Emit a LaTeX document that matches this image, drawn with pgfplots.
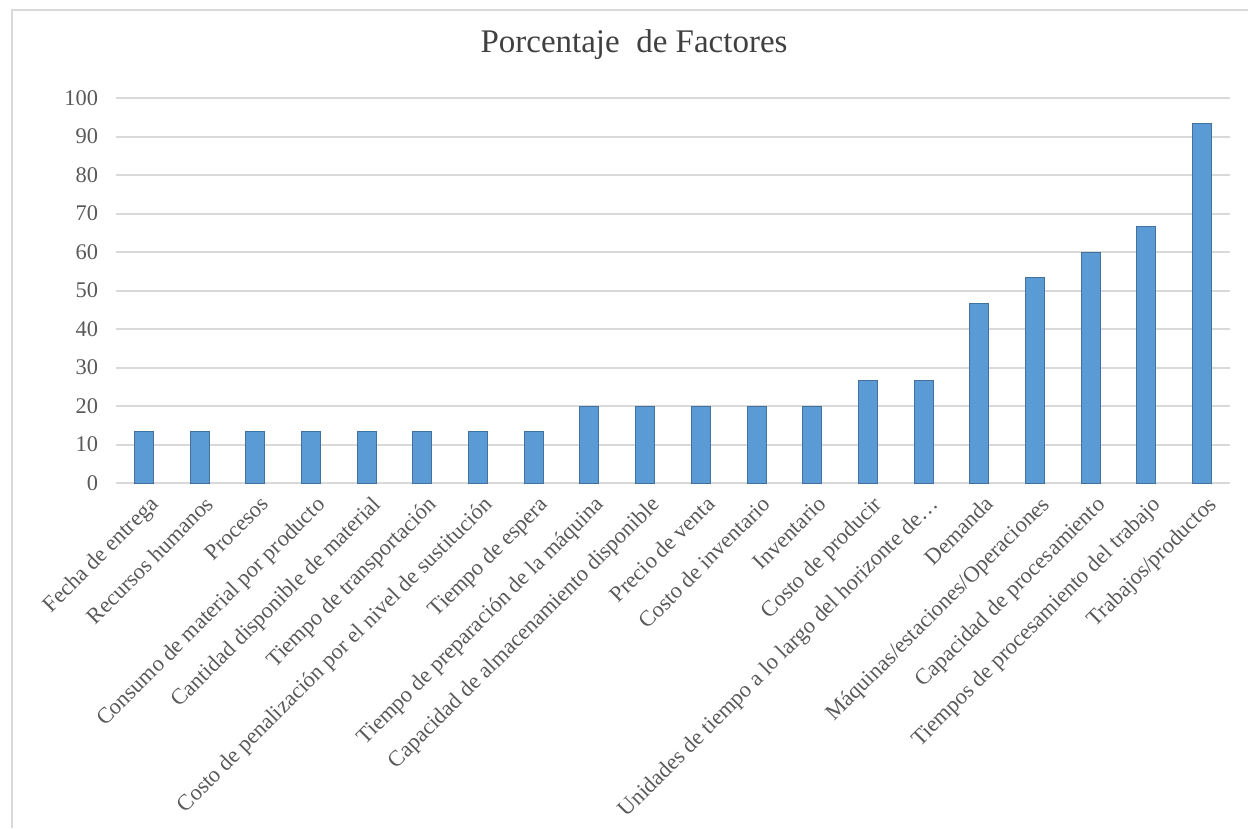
\documentclass[border=0pt]{standalone}
\usepackage{pgfplots}
\pgfplotsset{compat=1.18}
\usepackage{fontspec}
\setmainfont{Liberation Serif}
\definecolor{barblue}{HTML}{5B9BD5}
\definecolor{baredge}{HTML}{41719C}
\definecolor{gridgray}{HTML}{D9D9D9}
\definecolor{txtgray}{HTML}{595959}
\definecolor{titlegray}{HTML}{404040}
\begin{document}
\begin{tikzpicture}[x=1bp,y=1bp]
\useasboundingbox (-58,-172.5) rectangle (566,241.5);
\draw[gridgray, line width=1bp] (-52,-172.5) -- (-52,236.75) -- (566,236.75);
\node[anchor=base, text=titlegray, font=\fontsize{16.5bp}{19bp}\selectfont] at (259,215.5) {Porcentaje\ \ de Factores};
\begin{axis}[
  at={(0,0)}, anchor=south west,
  scale only axis,
  width=557bp, height=192.5bp,
  xmin=-0.5, xmax=19.5,
  ymin=0, ymax=100,
  ytick={0,10,...,100},
  xtick={0,1,...,19},
  xticklabels={Fecha de entrega, Recursos humanos, Procesos, Consumo de material por producto, Cantidad disponible de material, Tiempo de transportación, Costo de penalización por el nivel de sustitución, Tiempo de espera, Tiempo de preparación de la máquina, Capacidad de almacenamiento disponible, Precio de venta, Costo de inventario, Inventario, Costo de producir, Unidades de tiempo a lo largo del horizonte de…, Demanda, Máquinas/estaciones/Operaciones, Capacidad de procesamiento, Tiempos de procesamiento del trabajo, Trabajos/productos},
  major tick length=0pt,
  axis line style={draw=none},
  ymajorgrids,
  grid style={gridgray, line width=1bp},
  /pgf/number format/assume math mode=true,
  tick label style={text=txtgray, font=\fontsize{11.2bp}{13bp}\selectfont},
  yticklabel style={xshift=-5.5bp},
  xticklabel style={rotate=45, anchor=north east, inner sep=1.5bp, yshift=-4bp, xshift=-1bp},
  clip=false,
]
\addplot[ybar, bar width=9.5bp, fill=barblue, draw=baredge, line width=0.5bp] coordinates {
(0,13.33) (1,13.33) (2,13.33) (3,13.33) (4,13.33) (5,13.33) (6,13.33) (7,13.33)
(8,20) (9,20) (10,20) (11,20) (12,20)
(13,26.67) (14,26.67)
(15,46.67) (16,53.33) (17,60) (18,66.67) (19,93.33)
};
\end{axis}
\end{tikzpicture}
\end{document}
